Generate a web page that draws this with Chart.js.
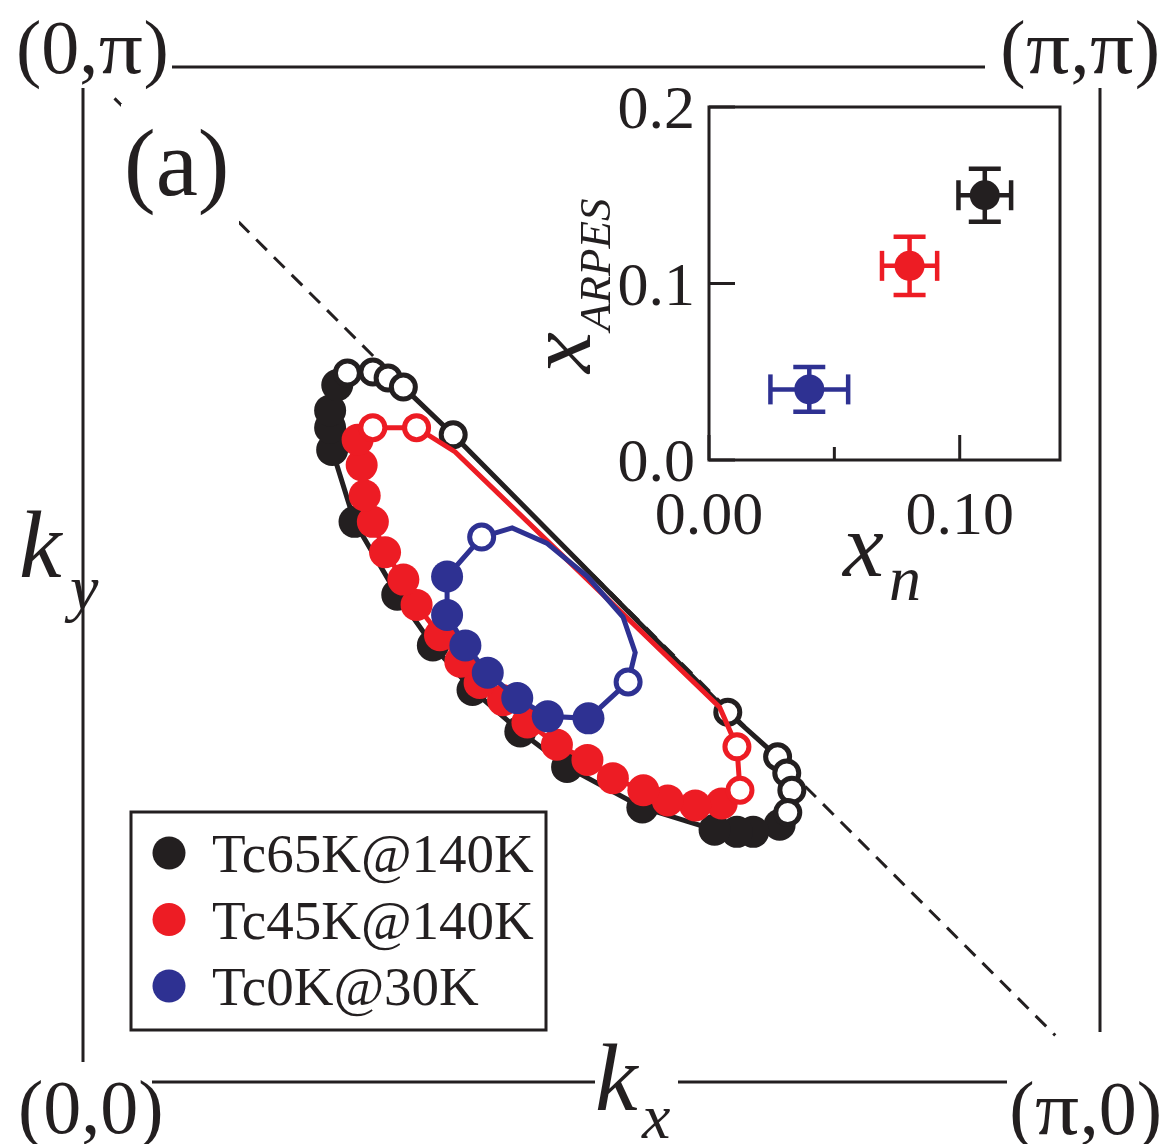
<!DOCTYPE html>
<html><head><meta charset="utf-8">
<script src="https://cdn.jsdelivr.net/npm/chart.js@4.4.1/dist/chart.umd.min.js"></script>
<style>
html,body{margin:0;padding:0;background:#fff;}
#wrap{position:relative;width:1165px;height:1144px;overflow:hidden;}
#main{position:absolute;left:0;top:0;}
#inset{position:absolute;left:520px;top:60px;}
</style></head><body>
<div id="wrap"><canvas id="main" width="1165" height="1144"></canvas><canvas id="inset" width="590" height="560"></canvas></div>
<script>
// ---------- DATA (momenta in units of pi: [kx/pi, ky/pi]) ----------
const seriesNames  = ['Tc65K@140K', 'Tc45K@140K', 'Tc0K@30K'];
const seriesColors = ['#231f20', '#ed1c24', '#2e3192'];

// Tc65K@140K loop
const tc65Path = [[0.260,0.698],[0.285,0.699],[0.300,0.693],[0.315,0.684],[0.364,0.637],[0.634,0.363],
  [0.683,0.319],[0.692,0.303],[0.697,0.286],[0.693,0.264],[0.685,0.252],[0.659,0.245],[0.643,0.245],
  [0.621,0.247],[0.550,0.269],[0.476,0.309],[0.430,0.344],[0.383,0.385],[0.344,0.429],[0.309,0.479],
  [0.267,0.551],[0.245,0.622],[0.243,0.644],[0.243,0.661],[0.250,0.686],[0.260,0.698]];
const tc65Open = [[0.260,0.698],[0.285,0.699],[0.300,0.693],[0.315,0.684],[0.364,0.637],[0.634,0.363],
  [0.683,0.319],[0.692,0.303],[0.697,0.286],[0.693,0.264]];
const tc65Filled = [[0.685,0.252],[0.659,0.245],[0.643,0.245],[0.621,0.247],[0.550,0.269],[0.476,0.309],
  [0.430,0.344],[0.383,0.385],[0.344,0.429],[0.309,0.479],[0.267,0.551],[0.245,0.622],[0.243,0.644],
  [0.243,0.661],[0.250,0.686]];

// Tc45K@140K loop
const tc45Path = [[0.285,0.644],[0.328,0.644],[0.366,0.620],[0.626,0.368],[0.643,0.329],[0.646,0.286],
  [0.628,0.273],[0.602,0.271],[0.575,0.276],[0.551,0.286],[0.521,0.298],[0.496,0.316],[0.466,0.331],
  [0.437,0.353],[0.413,0.375],[0.390,0.392],[0.371,0.413],[0.351,0.439],[0.328,0.469],[0.315,0.494],
  [0.297,0.521],[0.285,0.551],[0.277,0.577],[0.274,0.607],[0.270,0.632],[0.285,0.644]];
const tc45Open = [[0.285,0.644],[0.328,0.644],[0.643,0.329],[0.646,0.286]];
const tc45Filled = [[0.628,0.273],[0.602,0.271],[0.575,0.276],[0.551,0.286],[0.521,0.298],[0.496,0.316],
  [0.466,0.331],[0.437,0.353],[0.413,0.375],[0.390,0.392],[0.371,0.413],[0.351,0.439],[0.328,0.469],
  [0.315,0.494],[0.297,0.521],[0.285,0.551],[0.277,0.577],[0.274,0.607],[0.270,0.632]];

// Tc0K@30K loop
const tc0Path = [[0.392,0.536],[0.358,0.497],[0.358,0.459],[0.376,0.429],[0.398,0.402],[0.427,0.377],
  [0.457,0.359],[0.497,0.357],[0.536,0.393],[0.543,0.422],[0.531,0.457],[0.496,0.497],[0.456,0.530],
  [0.422,0.545],[0.392,0.536]];
const tc0Open = [[0.392,0.536],[0.536,0.393]];
const tc0Filled = [[0.358,0.497],[0.358,0.459],[0.376,0.429],[0.398,0.402],[0.427,0.377],[0.457,0.359],
  [0.497,0.357]];

// AF zone boundary (dashed diagonal)
const zoneBoundary = [[0.031,0.969],[0.956,0.044]];

// Corner labels
const cornerLabels = ['(0,\u03c0)', '(\u03c0,\u03c0)', '(0,0)', '(\u03c0,0)'];

// Inset: x_ARPES vs x_n
const insetXn    = [0.110, 0.080, 0.040];
const insetXarp  = [0.150, 0.110, 0.040];
const insetXnErr = [0.0105, 0.011, 0.0155];
const insetXaErr = [0.015, 0.0165, 0.0127];
const insetXTicks = [0.00, 0.10];
const insetXTickLabels = ['0.00', '0.10'];
const insetXMinorTicks = [0.05];
const insetYTicks = [0.0, 0.1, 0.2];
const insetYTickLabels = ['0.0', '0.1', '0.2'];

// ---------- BUILD ----------
const SERIF = '"Liberation Serif","Times New Roman",serif';
const pts = a => a.map(p => ({x: p[0], y: p[1]}));

function lineDs(path, color, order) {
  return {data: pts(path), showLine: true, borderColor: color, borderWidth: 5, pointRadius: 0,
          fill: false, tension: 0, order: order};
}
function filledDs(arr, color, order) {
  return {data: pts(arr), showLine: false, backgroundColor: color, borderColor: color, borderWidth: 0,
          pointBorderWidth: 0, pointRadius: 16, pointHoverRadius: 16, order: order};
}
function openDs(arr, color, order) {
  return {data: pts(arr), showLine: false, backgroundColor: '#ffffff', borderColor: color, borderWidth: 5,
          pointBackgroundColor: '#ffffff', pointBorderColor: color, pointBorderWidth: 5,
          pointRadius: 12, pointHoverRadius: 12, order: order};
}

const mainDatasets = [
  {data: pts(zoneBoundary), showLine: true, borderColor: '#231f20', borderWidth: 3, borderDash: [15, 10],
   pointRadius: 0, order: 100},
  lineDs(tc65Path, seriesColors[0], 30), filledDs(tc65Filled, seriesColors[0], 29), openDs(tc65Open, seriesColors[0], 28),
  lineDs(tc45Path, seriesColors[1], 20), filledDs(tc45Filled, seriesColors[1], 19), openDs(tc45Open, seriesColors[1], 18),
  lineDs(tc0Path, seriesColors[2], 10), filledDs(tc0Filled, seriesColors[2], 9), openDs(tc0Open, seriesColors[2], 8)
];

function seg(ctx, x1, y1, x2, y2) { ctx.beginPath(); ctx.moveTo(x1, y1); ctx.lineTo(x2, y2); ctx.stroke(); }

// draws a label char by char, widening the pi glyph (symbol-style pi)
function drawLabel(ctx, text, x, y, alignRight) {
  const piScale = 1.15, piExtra = 1;
  const widthOf = ch => ch === '\u03c0' ? ctx.measureText(ch).width * piScale + piExtra : ctx.measureText(ch).width;
  let total = 0;
  for (const ch of text) total += widthOf(ch);
  let cx = alignRight ? x - total : x;
  ctx.textAlign = 'left';
  for (const ch of text) {
    if (ch === '\u03c0') {
      ctx.save(); ctx.translate(cx + piExtra / 2, y); ctx.scale(piScale, 1); ctx.fillText(ch, 0, 0); ctx.restore();
    } else {
      ctx.fillText(ch, cx, y);
    }
    cx += widthOf(ch);
  }
}

const framePlugin = {
  id: 'frame',
  beforeDatasetsDraw(chart) {
    const ctx = chart.ctx, xs = chart.scales.x, ys = chart.scales.y;
    const x0 = xs.getPixelForValue(0), x1 = xs.getPixelForValue(1);
    const y0 = ys.getPixelForValue(0), y1 = ys.getPixelForValue(1);
    ctx.save();
    ctx.strokeStyle = '#231f20'; ctx.lineWidth = 3;
    seg(ctx, x0 + 89, y1, x1 - 115, y1);          // top
    seg(ctx, x1, y1 + 21, x1, y0 - 48);           // right
    seg(ctx, x0, y1 + 21, x0, y0 - 18);           // left
    seg(ctx, x0 + 69, y0 + 2, x0 + 512, y0 + 2);  // bottom (left part)
    seg(ctx, x0 + 595, y0 + 2, x1 - 93, y0 + 2);  // bottom (right part)
    ctx.restore();
  },
  afterDraw(chart) {
    const ctx = chart.ctx, xs = chart.scales.x, ys = chart.scales.y;
    const x0 = xs.getPixelForValue(0), x1 = xs.getPixelForValue(1);
    const y0 = ys.getPixelForValue(0), y1 = ys.getPixelForValue(1);
    ctx.save();
    ctx.fillStyle = '#231f20';
    ctx.textBaseline = 'alphabetic';
    ctx.font = '76px ' + SERIF;
    drawLabel(ctx, cornerLabels[0], 16, y1 + 6, false);
    drawLabel(ctx, cornerLabels[1], 1160, y1 + 6, true);
    drawLabel(ctx, cornerLabels[2], 18, y0 + 53, false);
    drawLabel(ctx, cornerLabels[3], 1162, y0 + 54, true);
    // panel tag (masks the dashed line behind it)
    ctx.fillStyle = '#ffffff';
    ctx.fillRect(121, 104, 118, 122);
    ctx.fillStyle = '#231f20';
    ctx.textAlign = 'left';
    ctx.font = '95px ' + SERIF;
    ctx.fillText('(a)', 124, 195);
    // axis titles
    ctx.font = 'italic 96px ' + SERIF;
    ctx.fillText('k', 19, 577);
    ctx.font = 'italic 64px ' + SERIF;
    ctx.fillText('y', 70, 609);
    ctx.font = 'italic 96px ' + SERIF;
    ctx.fillText('k', 595, 1110);
    ctx.font = 'italic 64px ' + SERIF;
    ctx.fillText('x', 642, 1138);
    // legend
    ctx.strokeStyle = '#231f20'; ctx.lineWidth = 3;
    ctx.strokeRect(131, 812, 415, 218);
    ctx.font = '55px ' + SERIF;
    for (let i = 0; i < seriesNames.length; i++) {
      const base = 872 + i * 66.5;
      ctx.fillStyle = seriesColors[i];
      ctx.beginPath(); ctx.arc(169, base - 19, 16.5, 0, Math.PI * 2); ctx.fill();
      ctx.fillStyle = '#231f20';
      ctx.fillText(seriesNames[i], 212, base);
    }
    ctx.restore();
  }
};

new Chart(document.getElementById('main'), {
  type: 'scatter',
  data: {datasets: mainDatasets},
  options: {
    responsive: false, animation: false, devicePixelRatio: 1,
    layout: {padding: {left: 83, right: 65, top: 67, bottom: 64}},
    scales: {
      x: {type: 'linear', min: 0, max: 1, display: false},
      y: {type: 'linear', min: 0, max: 1, display: false}
    },
    plugins: {legend: {display: false}, tooltip: {enabled: false}},
    events: []
  },
  plugins: [framePlugin]
});

// ---------- INSET ----------
const insetPlugin = {
  id: 'insetDeco',
  beforeDatasetsDraw(chart) {
    const ctx = chart.ctx, xs = chart.scales.x, ys = chart.scales.y;
    const a = chart.chartArea;
    ctx.save();
    ctx.strokeStyle = '#231f20'; ctx.lineWidth = 3;
    ctx.strokeRect(a.left, a.top, a.right - a.left, a.bottom - a.top);
    // inward ticks
    insetYTicks.forEach(v => { const y = ys.getPixelForValue(v); seg(ctx, a.left, y, a.left + 26, y); });
    insetXTicks.forEach(v => { const x = xs.getPixelForValue(v); seg(ctx, x, a.bottom, x, a.bottom - 25); });
    insetXMinorTicks.forEach(v => { const x = xs.getPixelForValue(v); seg(ctx, x, a.bottom, x, a.bottom - 13); });
    // error bars
    ctx.lineWidth = 4.5;
    for (let i = 0; i < insetXn.length; i++) {
      ctx.strokeStyle = seriesColors[i];
      const cx = xs.getPixelForValue(insetXn[i]), cy = ys.getPixelForValue(insetXarp[i]);
      const xl = xs.getPixelForValue(insetXn[i] - insetXnErr[i]), xr = xs.getPixelForValue(insetXn[i] + insetXnErr[i]);
      const yt = ys.getPixelForValue(insetXarp[i] + insetXaErr[i]), yb = ys.getPixelForValue(insetXarp[i] - insetXaErr[i]);
      seg(ctx, xl, cy, xr, cy); seg(ctx, xl, cy - 15, xl, cy + 15); seg(ctx, xr, cy - 15, xr, cy + 15);
      seg(ctx, cx, yt, cx, yb); seg(ctx, cx - 16, yt, cx + 16, yt); seg(ctx, cx - 16, yb, cx + 16, yb);
    }
    ctx.restore();
  },
  afterDraw(chart) {
    const ctx = chart.ctx, xs = chart.scales.x, ys = chart.scales.y;
    const a = chart.chartArea;
    ctx.save();
    ctx.fillStyle = '#231f20';
    ctx.font = '62px ' + SERIF;
    ctx.textBaseline = 'alphabetic';
    ctx.textAlign = 'right';
    insetYTicks.forEach((v, i) => ctx.fillText(insetYTickLabels[i], a.left - 14, ys.getPixelForValue(v) + 21));
    ctx.textAlign = 'center';
    insetXTicks.forEach((v, i) => ctx.fillText(insetXTickLabels[i], xs.getPixelForValue(v), a.bottom + 74));
    // axis titles
    ctx.textAlign = 'left';
    ctx.font = 'italic 92px ' + SERIF;
    ctx.fillText('x', a.left + 134, a.bottom + 116);
    ctx.font = 'italic 64px ' + SERIF;
    ctx.fillText('n', a.left + 180, a.bottom + 140);
    ctx.save();
    ctx.translate(a.left - 119, a.top + 266);
    ctx.rotate(-Math.PI / 2);
    ctx.font = 'italic 92px ' + SERIF;
    ctx.fillText('x', 0, 0);
    ctx.restore();
    ctx.save();
    ctx.translate(a.left - 99, a.top + 224);
    ctx.rotate(-Math.PI / 2);
    ctx.font = 'italic 45px ' + SERIF;
    ctx.fillText('ARPES', 0, 0);
    ctx.restore();
    ctx.restore();
  }
};

new Chart(document.getElementById('inset'), {
  type: 'scatter',
  data: {datasets: insetXn.map((x, i) => ({
    data: [{x: x, y: insetXarp[i]}], backgroundColor: seriesColors[i], borderColor: seriesColors[i],
    borderWidth: 0, pointRadius: 15, pointHoverRadius: 15
  }))},
  options: {
    responsive: false, animation: false, devicePixelRatio: 1,
    layout: {padding: {left: 189, right: 50, top: 47, bottom: 160}},
    scales: {
      x: {type: 'linear', min: 0, max: 0.14, display: false},
      y: {type: 'linear', min: 0, max: 0.2, display: false}
    },
    plugins: {legend: {display: false}, tooltip: {enabled: false}},
    events: []
  },
  plugins: [insetPlugin]
});
</script>
</body></html>
